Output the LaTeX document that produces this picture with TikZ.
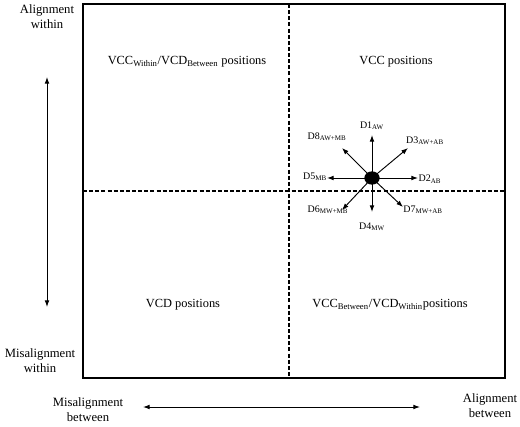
\documentclass[tikz,border=0pt]{standalone}
\usepackage{fontspec}
\setmainfont{Liberation Serif}
\usetikzlibrary{arrows.meta,shapes.geometric}

\begin{document}
\begin{tikzpicture}[x=0.75pt,y=0.75pt,yscale=-1,xscale=1,
    axislabel/.style={align=center,inner sep=0.75pt,font=\fontsize{9.5}{11.3}\selectfont},
    quadlabel/.style={inner sep=0.75pt,font=\fontsize{9.3}{11}\selectfont},
    dlabel/.style={inner sep=0.75pt,font=\fontsize{7.5}{9}\selectfont},
    divider/.style={line width=0.9,dash pattern=on 3pt off 1.6pt},
    axisarrow/.style={line width=0.7,{Latex[length=5pt,width=3.6pt]}-{Latex[length=5pt,width=3.6pt]}},
    dirarrow/.style={line width=0.7,-{Latex[length=5pt,width=3.6pt]}}]
    \useasboundingbox (0,0) rectangle (520,427);

    %Shape: Rectangle
    \draw [line width=1.4] (83,4) rectangle (505,378) ;
    %Dashed Lines
    \coordinate (vtop) at (289,4) ;
    \coordinate (vbot) at (289,378) ;
    \coordinate (hleft) at (83,191) ;
    \coordinate (hright) at (505,191) ;
    \draw [divider] (vtop) -- (vbot) ;
    \draw [divider] (hleft) -- (hright) ;

    % Axis arrows
    \coordinate (wtop) at (47,77) ;
    \coordinate (wbot) at (47,307) ;
    \coordinate (bleft) at (143,407) ;
    \coordinate (bright) at (420,407) ;
    \draw [axisarrow] (wtop) -- (wbot) ;
    \draw [axisarrow] (bleft) -- (bright) ;

    % Text Node
    \node [axislabel] (alwithin) at (47,17) {Alignment\\within} ;
    % Text Node
    \node [axislabel] (miswithin) at (40,361) {Misalignment\\within} ;
    % Text Node
    \node [axislabel] (misbetween) at (88,410) {Misalignment\\between} ;
    % Text Node
    \node [axislabel] (albetween) at (490,406) {Alignment\\between} ;

    % Quadrant texts
    \node [quadlabel] (qtl) at (187,62) {VCC\textsubscript{Within}/VCD\textsubscript{Between} positions} ;
    \node [quadlabel] (qtr) at (396,62) {VCC positions} ;
    \node [quadlabel] (qbl) at (183,305) {VCD positions} ;
    \node [quadlabel] (qbr) at (390,305) {VCC\textsubscript{Between}/VCD\textsubscript{Within}positions} ;

    % Dot
    \node [ellipse,fill=black,minimum width=11.5pt,minimum height=10pt,inner sep=0pt] (dot) at (372,178) {} ;

    % Arrow tips
    \coordinate (t1) at (372,135) ;
    \coordinate (t2) at (418,178) ;
    \coordinate (t3) at (408,148) ;
    \coordinate (t4) at (372,212) ;
    \coordinate (t5) at (327,178) ;
    \coordinate (t6) at (342,210) ;
    \coordinate (t7) at (403,207) ;
    \coordinate (t8) at (342,148) ;
    \draw [dirarrow] (dot.center) -- (t1) ;
    \draw [dirarrow] (dot.center) -- (t2) ;
    \draw [dirarrow] (dot.center) -- (t3) ;
    \draw [dirarrow] (dot.center) -- (t4) ;
    \draw [dirarrow] (dot.center) -- (t5) ;
    \draw [dirarrow] (dot.center) -- (t6) ;
    \draw [dirarrow] (dot.center) -- (t7) ;
    \draw [dirarrow] (dot.center) -- (t8) ;

    % Direction labels
    \node [dlabel] (d1) at (372,126) {D1\textsubscript{AW}} ;
    \node [dlabel] (d2) at (430,179) {D2\textsubscript{AB}} ;
    \node [dlabel] (d3) at (425,141) {D3\textsubscript{AW+AB}} ;
    \node [dlabel] (d4) at (372,227) {D4\textsubscript{MW}} ;
    \node [dlabel] (d5) at (315,177) {D5\textsubscript{MB}} ;
    \node [dlabel] (d6) at (328,210) {D6\textsubscript{MW+MB}} ;
    \node [dlabel] (d7) at (423,210) {D7\textsubscript{MW+AB}} ;
    \node [dlabel] (d8) at (327,137) {D8\textsubscript{AW+MB}} ;

\end{tikzpicture}
\end{document}
